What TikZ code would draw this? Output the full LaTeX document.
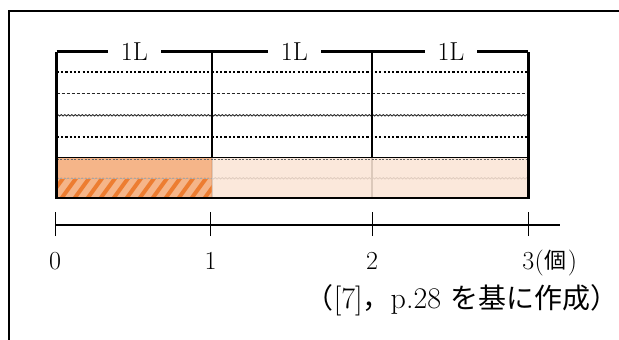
\documentclass[tikz,border=0pt]{standalone}
\usepackage{fontspec}
\newfontfamily\jp{Noto Sans CJK JP}
\usetikzlibrary{decorations.pathmorphing}
\definecolor{orA}{HTML}{F4B183}
\definecolor{orB}{HTML}{FBE5D6}
\definecolor{orC}{HTML}{ED7D31}
\tikzset{
  frame/.style={line width=2pt},
  boxedge/.style={line width=2.6pt},
  lbl/.style={fill=white,inner xsep=13pt,inner ysep=2pt,font=\fontsize{26}{28}\selectfont},
  dotline/.style={line width=2.2pt,dash pattern=on 2.2pt off 2.1pt},
  dashline/.style={line width=1pt,dash pattern=on 3pt off 2pt,black!85},
  waveline/.style={line width=0.9pt,black!85,decorate,decoration={snake,amplitude=0.7pt,segment length=3.5pt}},
  axis/.style={line width=1.3pt},
  tick/.style={line width=1pt},
  num/.style={font=\fontsize{26}{28}\selectfont,inner sep=0pt},
}
\begin{document}
\begin{tikzpicture}[x=1pt,y=-1pt]
\useasboundingbox (0,0) rectangle (619,340);
% outer frame
\draw[frame] (9,340) -- (9,11) -- (625,11);
% coordinates of boxes
\coordinate (b0) at (56.7,51.7);
\coordinate (b1) at (211.7,51.7);
\coordinate (b2) at (371.7,51.7);
\coordinate (b3) at (528.3,51.7);
% horizontal inner lines
\draw[dotline] (56.7,72.3) -- (528.3,72.3);
\draw[dashline] (56.7,93.3) -- (528.3,93.3);
\draw[waveline] (56.7,115.3) -- (528.3,115.3);
\draw[dotline] (56.7,136.7) -- (528.3,136.7);
\draw[waveline] (56.7,178.3) -- (528.3,178.3);
% dividers
\draw[line width=2.4pt] (211.7,51.7) -- (211.7,199);
\draw[line width=2.4pt] (371.7,51.7) -- (371.7,199);
% fills
\fill[orA,opacity=0.95] (56.7,157.7) rectangle (211.7,197);
\fill[orB,opacity=0.88] (211.7,157.7) rectangle (528.3,197);
\draw[line width=0.5pt,black!60,dash pattern=on 2pt off 1.5pt] (56.7,159.5) -- (528.3,159.5);
\draw[line width=0.5pt,black!35,dash pattern=on 2pt off 1.5pt] (56.7,178.3) -- (211.7,178.3);
\begin{scope}
\clip (56.7,179.5) rectangle (211.7,196);
\foreach \i in {0,...,14} {
  \draw[orC,line width=4pt] (48+\i*13,199) -- (48+\i*13+16,177);
}
\end{scope}
\draw[line width=0.9pt] (56.7,157.7) -- (528.3,157.7);
% box outline
\draw[boxedge] (b0) -- (56.7,198) -- (528.3,198) -- (b3);
\draw[boxedge] (b0) -- (b3);
\node[lbl] (l1) at (134.3,51.7) {1L};
\node[lbl] (l2) at (294.3,51.7) {1L};
\node[lbl] (l3) at (451,51.7) {1L};
% number line
\coordinate (a0) at (55,225);
\coordinate (a1) at (210.5,225);
\coordinate (a2) at (372,225);
\coordinate (a3) at (528.3,225);
\coordinate (aend) at (560,225);
\draw[axis] (a0) -- (aend);
\foreach \p in {a0,a1,a2,a3} \draw[tick] ([yshift=-11pt]\p) -- ([yshift=13pt]\p);
\node[num] (n0) at (55,261) {0};
\node[num] (n1) at (210.5,261) {1};
\node[num] (n2) at (372,261) {2};
\node[num] (n3) at (528.3,261) {3};
\node[num,anchor=base west] (unit) at (n3.base east) {(\kern1pt\raisebox{0.5pt}{\jp\fontsize{22}{24}\selectfont 個}\kern1pt)};
\node[font=\fontsize{30}{32}\selectfont,inner sep=0pt] (credit) at (462,300) {{\jp\fontsize{28}{30}\selectfont （}[7]{\jp\fontsize{28}{30}\selectfont ，}p.28 {\jp\fontsize{28}{30}\selectfont を基に作成）}};
\end{tikzpicture}
\end{document}
